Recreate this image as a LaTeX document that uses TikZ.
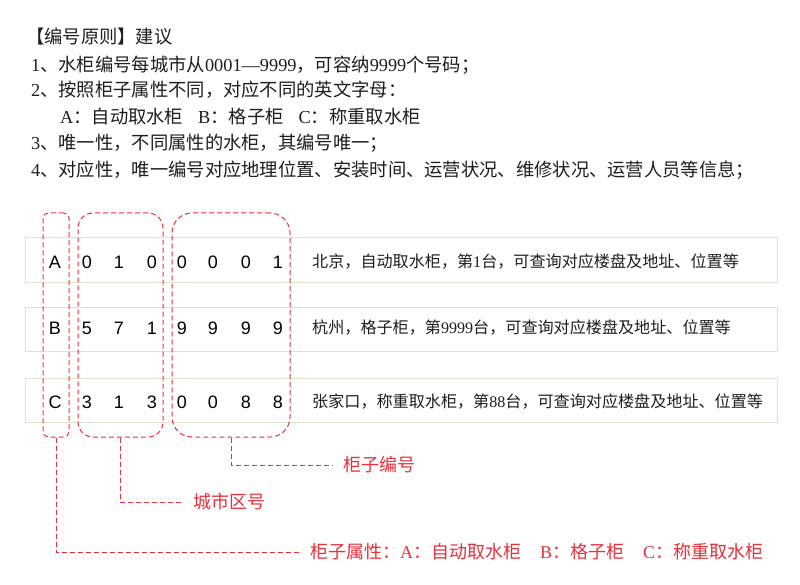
\documentclass[tikz,border=0pt]{standalone}
\usepackage{fontspec}
\setmainfont{Liberation Serif}
\newfontfamily\cjk{Noto Sans CJK SC}
\newfontfamily\latfont{Liberation Serif}
\newfontfamily\digfont{Liberation Sans}
\newcommand{\lat}[1]{{\latfont #1}}
\definecolor{leadred}{RGB}{232,48,58}
\definecolor{rowedge}{RGB}{228,224,206}
\definecolor{txt}{RGB}{30,30,30}
\tikzset{
  headline/.style={anchor=west, inner sep=0pt, text=txt, font=\cjk\fontsize{18.3}{18}\selectfont},
  rowbox/.style={draw=rowedge, line width=1pt, fill=white, minimum width=752pt, minimum height=44pt, inner sep=0pt},
  digit/.style={inner sep=0pt, text=black, font=\digfont\fontsize{18}{18}\selectfont},
  desc/.style={anchor=west, inner sep=0pt, text=txt, font=\cjk\fontsize{16.1}{16}\selectfont},
  groupbox/.style={draw=leadred, line width=1pt, dash pattern=on 5pt off 3pt, minimum height=224pt, inner sep=0pt},
  leader/.style={draw=leadred, line width=1pt, dash pattern=on 5pt off 3pt},
  redlabel/.style={anchor=west, inner xsep=10pt, inner ysep=0pt, text=leadred, font=\cjk\fontsize{18}{18}\selectfont}
}
\begin{document}
\begin{tikzpicture}[x=1pt,y=-1pt]
\useasboundingbox (0,0) rectangle (800,585);
\fill[white] (0,0) rectangle (800,585);
% header text
\node[headline] (h0) at (26,37) {【编号原则】建议};
\node[headline] (h1) at (31,65) {\lat{1}、水柜编号每城市从\lat{0001—9999}，可容纳\lat{9999}个号码；};
\node[headline] (h2) at (31,90) {\lat{2}、按照柜子属性不同，对应不同的英文字母：};
\node[headline] (h3) at (60,117) {\lat{A}：自动取水柜\hspace{15pt}\lat{B}：格子柜\hspace{15pt}\lat{C}：称重取水柜};
\node[headline] (h4) at (31,143) {\lat{3}、唯一性，不同属性的水柜，其编号唯一；};
\node[headline] (h5) at (31,170) {\lat{4}、对应性，唯一编号对应地理位置、安装时间、运营状况、维修状况、运营人员等信息；};
% row boxes
\node[rowbox] (rowA) at (401,260) {};
\node[rowbox] (rowB) at (401,329) {};
\node[rowbox] (rowC) at (401,400) {};
% row A
\node[digit] (a0) at (55,262) {A};
\node[digit] (a1) at (87,262) {0};
\node[digit] (a2) at (119,262) {1};
\node[digit] (a3) at (152,262) {0};
\node[digit] (a4) at (182,262) {0};
\node[digit] (a5) at (213,262) {0};
\node[digit] (a6) at (246,262) {0};
\node[digit] (a7) at (278,262) {1};
\node[desc] (da) at (312,262) {北京，自动取水柜，第\lat{1}台，可查询对应楼盘及地址、位置等};
% row B
\node[digit] (b0) at (55,328) {B};
\node[digit] (b1) at (87,328) {5};
\node[digit] (b2) at (119,328) {7};
\node[digit] (b3) at (152,328) {1};
\node[digit] (b4) at (182,328) {9};
\node[digit] (b5) at (213,328) {9};
\node[digit] (b6) at (246,328) {9};
\node[digit] (b7) at (278,328) {9};
\node[desc] (db) at (312,328) {杭州，格子柜，第\lat{9999}台，可查询对应楼盘及地址、位置等};
% row C
\node[digit] (c0) at (55,402) {C};
\node[digit] (c1) at (87,402) {3};
\node[digit] (c2) at (119,402) {1};
\node[digit] (c3) at (152,402) {3};
\node[digit] (c4) at (182,402) {0};
\node[digit] (c5) at (213,402) {0};
\node[digit] (c6) at (246,402) {8};
\node[digit] (c7) at (278,402) {8};
\node[desc] (dc) at (312,402) {张家口，称重取水柜，第\lat{88}台，可查询对应楼盘及地址、位置等};
% dashed group boxes
\node[groupbox, minimum width=26pt, rounded corners=5pt] (attrbox) at (56,325) {};
\node[groupbox, minimum width=85pt, rounded corners=15pt] (citybox) at (120.5,325) {};
\node[groupbox, minimum width=118pt, rounded corners=20pt] (numbox) at (231,325) {};
% labels
\node[redlabel] (numlbl) at (333,465) {柜子编号};
\node[redlabel] (citylbl) at (183,502) {城市区号};
\node[redlabel] (attrlbl) at (300,552) {柜子属性：\lat{A}：自动取水柜\hspace{19pt}\lat{B}：格子柜\hspace{19pt}\lat{C}：称重取水柜};
% leaders
\draw[leader] (numbox.south) |- (numlbl.west);
\draw[leader] (citybox.south) |- (citylbl.west);
\draw[leader] (attrbox.south) |- (attrlbl.west);
\end{tikzpicture}
\end{document}
